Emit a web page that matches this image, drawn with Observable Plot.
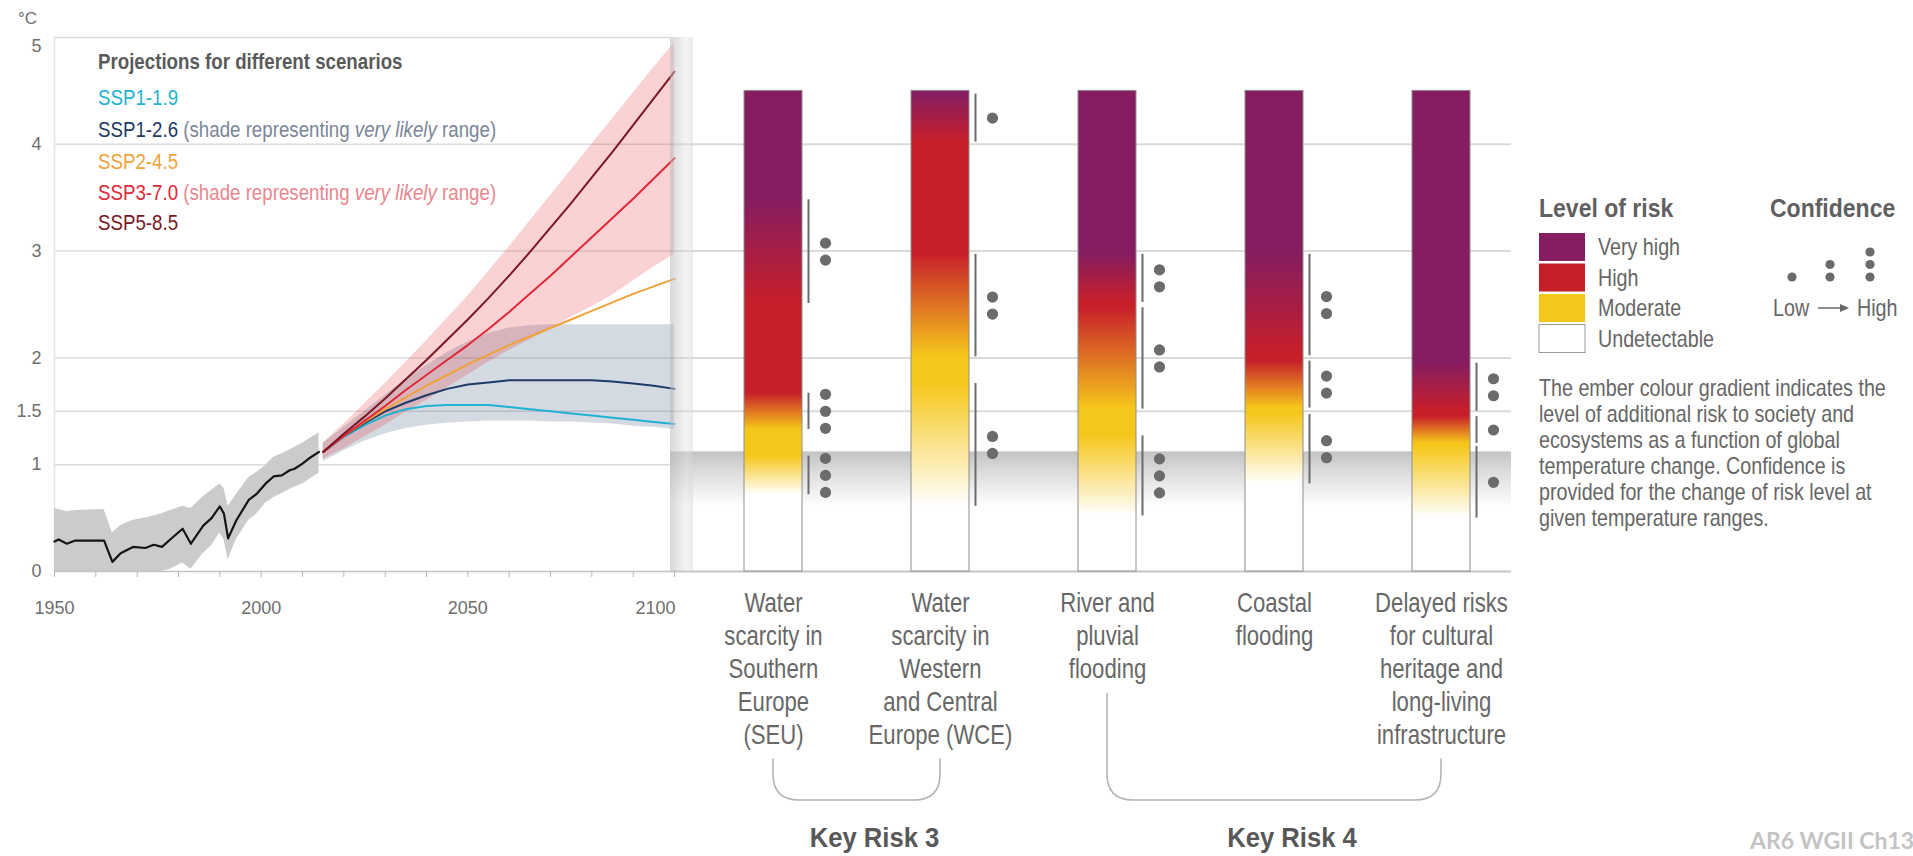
<!DOCTYPE html>
<html>
<head>
<meta charset="utf-8">
<title>Key risks for Europe by level of global warming</title>
<script src="https://cdn.jsdelivr.net/npm/d3@7"></script>
<script src="https://cdn.jsdelivr.net/npm/@observablehq/plot@0.6"></script>
<style>
  html, body { margin: 0; padding: 0; background: #fff; }
  #page { position: relative; width: 1913px; height: 856px; overflow: hidden; background: #fff;
          font-family: "Liberation Sans", Arial, sans-serif; }
  #page svg { position: absolute; left: 0; top: 0; }
  .lbl { position: absolute; white-space: nowrap; line-height: 1; }
</style>
</head>
<body>
<div id="page"></div>
<script>
// ---------------------------------------------------------------------------
// Global surface temperature change (°C relative to 1850–1900)
// ---------------------------------------------------------------------------
const histYears = [1950,1951,1953,1955,1962,1964,1966,1969,1972,1974,1976,1978,1981,1983,1986,1988,1990,1991,1992,1994,1997,1999,2001,2003,2005,2007,2008,2010,2012,2014];
const histMean  = [0.28,0.30,0.26,0.29,0.29,0.09,0.17,0.23,0.22,0.25,0.23,0.30,0.40,0.26,0.43,0.50,0.61,0.54,0.31,0.48,0.67,0.73,0.82,0.89,0.90,0.95,0.96,1.01,1.07,1.12];
const histLow   = [0.00,0.00,0.00,0.00,0.00,0.00,0.00,0.00,0.00,0.00,0.00,0.02,0.08,0.02,0.17,0.24,0.36,0.30,0.11,0.30,0.48,0.54,0.64,0.69,0.73,0.77,0.79,0.82,0.87,0.92];
const histHigh  = [0.59,0.58,0.56,0.57,0.58,0.36,0.43,0.48,0.50,0.52,0.54,0.57,0.61,0.59,0.70,0.76,0.82,0.78,0.61,0.72,0.88,0.93,0.99,1.07,1.10,1.14,1.16,1.20,1.25,1.30];

const projYears = [2015,2020,2025,2030,2035,2040,2045,2050,2055,2060,2065,2070,2075,2080,2085,2090,2095,2100];
const ssp119 = [1.12,1.26,1.37,1.46,1.52,1.55,1.56,1.56,1.56,1.54,1.52,1.50,1.48,1.46,1.44,1.42,1.40,1.38];
const ssp126 = [1.12,1.27,1.39,1.50,1.58,1.65,1.71,1.75,1.77,1.79,1.79,1.79,1.79,1.79,1.78,1.76,1.74,1.71];
const ssp245 = [1.12,1.27,1.40,1.52,1.63,1.74,1.84,1.94,2.03,2.12,2.20,2.28,2.36,2.44,2.52,2.60,2.67,2.74];
const ssp370 = [1.12,1.27,1.41,1.55,1.70,1.84,1.98,2.12,2.27,2.43,2.60,2.77,2.95,3.13,3.31,3.49,3.68,3.87];
const ssp585 = [1.12,1.29,1.45,1.62,1.80,1.98,2.17,2.36,2.56,2.77,2.99,3.22,3.45,3.69,3.93,4.18,4.43,4.68];
// very likely ranges
const ssp126Low  = [1.03,1.13,1.22,1.29,1.34,1.37,1.39,1.40,1.41,1.41,1.41,1.40,1.40,1.39,1.38,1.36,1.35,1.33];
const ssp126High = [1.20,1.35,1.50,1.65,1.80,1.93,2.05,2.15,2.23,2.28,2.30,2.31,2.31,2.31,2.31,2.31,2.31,2.31];
const ssp370Low  = [1.05,1.15,1.26,1.37,1.49,1.60,1.72,1.84,1.96,2.07,2.17,2.27,2.38,2.48,2.59,2.72,2.85,2.97];
const ssp370High = [1.20,1.38,1.57,1.76,1.96,2.16,2.37,2.58,2.81,3.04,3.28,3.52,3.76,4.00,4.24,4.48,4.72,4.95];

const scenarios = ["SSP1-1.9", "SSP1-2.6", "SSP2-4.5", "SSP3-7.0", "SSP5-8.5"];
const scenarioColors = ["#1fb2d1", "#1d3a66", "#f0a23a", "#df2738", "#7a1727"];

const xLabelYears = [1950, 2000, 2050, 2100];
const xMinorYears = [1950, 1960, 1970, 1980, 1990, 2000, 2010, 2020, 2030, 2040, 2050, 2060, 2070, 2080, 2090, 2100];
const yTicks = [0, 1, 1.5, 2, 3, 4, 5];

// ---------------------------------------------------------------------------
// Burning embers: risk level against global warming
// ---------------------------------------------------------------------------
const riskKeys = ["SEU", "WCE", "RPF", "CF", "CH"];
const riskLabels = [
  "Water\nscarcity in\nSouthern\nEurope\n(SEU)",
  "Water\nscarcity in\nWestern\nand Central\nEurope (WCE)",
  "River and\npluvial\nflooding",
  "Coastal\nflooding",
  "Delayed risks\nfor cultural\nheritage and\nlong-living\ninfrastructure"
];
const emberTop = 4.5;
// transition ranges (°C) between risk levels
const toModerate = [[0.72, 1.08], [0.61, 1.76], [0.52, 1.27], [0.82, 1.47], [0.50, 1.17]];
const toHigh     = [[1.33, 1.67], [2.01, 2.97], [1.52, 2.47], [1.53, 1.97], [1.20, 1.45]];
const toVeryHigh = [[2.51, 3.48], [4.02, 4.47], [2.52, 2.97], [2.02, 2.97], [1.50, 1.95]];
// confidence of each transition (number of dots)
const confModerate = [3, 2, 3, 2, 1];
const confHigh     = [3, 2, 2, 2, 1];
const confVeryHigh = [2, 1, 2, 2, 2];

const riskLevels = ["Very high", "High", "Moderate", "Undetectable"];
const riskLevelColors = ["#861d60", "#c71f2a", "#f6c71b", "#ffffff"];
const observedWarming = 1.12;
const keyRiskGroups = [
  {name: "Key Risk 3", from: "SEU", to: "WCE"},
  {name: "Key Risk 4", from: "RPF", to: "CH"}
];

// ---------------------------------------------------------------------------
const page = document.getElementById("page");
const FONT_SANS = '"Liberation Sans", Arial, sans-serif';
const NARROW = 0.82;   // Arial Narrow proportions

const hist = histYears.map((year, i) => ({year, mean: histMean[i], lo: histLow[i], hi: histHigh[i]}));
const proj = projYears.map((year, i) => ({year, lo126: ssp126Low[i], hi126: ssp126High[i], lo370: ssp370Low[i], hi370: ssp370High[i]}));
const projSeries = [ssp119, ssp126, ssp245, ssp370, ssp585];
const projLong = scenarios.flatMap((s, k) => projYears.map((year, i) => ({scenario: s, year, value: projSeries[k][i]})));

// Ember panel (drawn first, lies underneath)
const [cVeryHigh, cHigh, cModerate, cNone] = riskLevelColors;

function emberDefs() {
  const defs = d3.create("svg:defs");
  riskKeys.forEach((k, i) => {
    const g = defs.append("linearGradient").attr("id", `ember-${i}`)
      .attr("x1", 0).attr("y1", 1).attr("x2", 0).attr("y2", 0);
    const stops = [
      [0, cNone], [toModerate[i][0], cNone], [toModerate[i][1], cModerate],
      [toHigh[i][0], cModerate], [toHigh[i][1], cHigh],
      [toVeryHigh[i][0], cHigh], [toVeryHigh[i][1], cVeryHigh], [emberTop, cVeryHigh]
    ];
    for (const [t, c] of stops) g.append("stop").attr("offset", Math.min(1, t / emberTop)).attr("stop-color", c);
  });
  const b = defs.append("linearGradient").attr("id", "now-band").attr("x1", 0).attr("y1", 0).attr("x2", 0).attr("y2", 1);
  b.append("stop").attr("offset", 0).attr("stop-color", "#c3c3c3");
  b.append("stop").attr("offset", 0.4).attr("stop-color", "#dedede");
  b.append("stop").attr("offset", 1).attr("stop-color", "#ffffff");
  return defs.node();
}

const segments = riskKeys.flatMap((risk, i) => [
  {risk, lo: toModerate[i][0], hi: toModerate[i][1], n: confModerate[i]},
  {risk, lo: toHigh[i][0], hi: toHigh[i][1], n: confHigh[i]},
  {risk, lo: toVeryHigh[i][0], hi: toVeryHigh[i][1], n: confVeryHigh[i]}
]);
const dotOffsets = {1: [0], 2: [-8.5, 8.5], 3: [-17, 0, 17]};
const dotMarks = Object.entries(dotOffsets).flatMap(([n, offs]) => offs.map(off =>
  Plot.dot(segments.filter(s => s.n === +n), {
    x: "risk", y: s => (s.lo + s.hi) / 2, dx: 52, dy: off, r: 5.6, fill: "#6b6b6b", stroke: "none"
  })
));

const ember = Plot.plot({
  width: 1913, height: 856,
  marginLeft: 670, marginRight: 402, marginTop: 37, marginBottom: 285,
  style: {background: "transparent", overflow: "visible", fontFamily: FONT_SANS},
  x: {type: "band", domain: riskKeys, range: [743, 1470], paddingInner: 0.653, paddingOuter: 0, axis: null},
  y: {domain: [0, 5], axis: null},
  color: {type: "identity"},
  marks: [
    emberDefs,
    Plot.rect([observedWarming], {y1: 0.6, y2: d => d, fill: "url(#now-band)"}),
    Plot.ruleY([1.5, 2, 3, 4], {stroke: "#dadada", strokeWidth: 2}),
    Plot.ruleY([0], {stroke: "#c6c6c6", strokeWidth: 2}),
    Plot.barY(riskKeys, {x: d => d, y1: 0, y2: emberTop, fill: (d, i) => `url(#ember-${i})`, stroke: "#8d8d8d", strokeWidth: 1}),
    Plot.ruleX(segments, {x: "risk", y1: "lo", y2: "hi", dx: 35, stroke: "#6b6b6b", strokeWidth: 2}),
    ...dotMarks,
    Plot.text(riskKeys, {
      x: d => d, y: 0, text: (d, i) => riskLabels[i], lineAnchor: "top", dy: 17,
      fontSize: 27, lineHeight: 1.22, fill: "#676767", fontFamily: FONT_SANS
    })
  ]
});
// condense the risk labels to narrow proportions, keeping each one centred on its ember
d3.select(ember).selectAll("text").each(function () {
  const t = d3.select(this);
  const tr = t.attr("transform");
  if (tr) t.attr("transform", `${tr} scale(${NARROW},1)`);
  else {
    const x = +t.attr("x") || 0, y = +t.attr("y") || 0;
    t.attr("transform", `translate(${x},${y}) scale(${NARROW},1) translate(${-x},${-y})`);
  }
});
page.appendChild(ember);

// Global temperature panel
const left = Plot.plot({
  width: 700, height: 620,
  marginLeft: 54, marginRight: 30, marginTop: 37, marginBottom: 49,
  style: {background: "transparent", overflow: "visible", fontFamily: FONT_SANS, fontSize: "18px", color: "#6e6e6e"},
  x: {domain: [1950, 2100], range: [54, 674]},
  y: {domain: [0, 5]},
  color: {domain: scenarios, range: scenarioColors},
  marks: [
    Plot.ruleY(yTicks.filter(d => d > 0), {stroke: "#dcdcdc", strokeWidth: 1.5}),
    Plot.ruleX([1950], {stroke: "#e2e2e2", strokeWidth: 1.5}),
    Plot.areaY(proj, {x: "year", y1: "lo126", y2: "hi126", fill: "#1d3a66", fillOpacity: 0.19}),
    Plot.areaY(proj, {x: "year", y1: "lo370", y2: "hi370", fill: "#e71d25", fillOpacity: 0.2}),
    Plot.areaY(hist, {x: "year", y1: "lo", y2: "hi", fill: "#cbcbcb"}),
    Plot.ruleY([0], {stroke: "#c2c2c2", strokeWidth: 1.5}),
    Plot.lineY(hist, {x: "year", y: "mean", stroke: "#151515", strokeWidth: 2.2}),
    Plot.lineY(projLong, {x: "year", y: "value", z: "scenario", stroke: "scenario", strokeWidth: 2}),
    Plot.axisX(xMinorYears, {tickSize: 6, tickPadding: 24, stroke: "#b5b5b5", label: null,
      tickFormat: d => (xLabelYears.includes(d) && d < 2100) ? String(d) : ""}),
    Plot.axisX(xLabelYears.filter(d => d === 2100), {tickSize: 0, tickPadding: 30, textAnchor: "end", dx: 1, label: null, tickFormat: String}),
    Plot.axisY(yTicks.filter(d => d < 5), {tickSize: 0, tickPadding: 13, label: null, tickFormat: String}),
    Plot.axisY(yTicks.filter(d => d === 5), {tickSize: 0, tickPadding: 13, dy: 9, label: null, tickFormat: String})
  ]
});
page.appendChild(left);

// Shaded divider between the two panels
const strip = document.createElement("div");
Object.assign(strip.style, {position: "absolute", left: "670px", top: "37px", width: "23px", height: "534px",
  background: "linear-gradient(to right, rgba(185,185,185,0.55), rgba(225,225,225,0.35) 70%, rgba(215,215,215,0.5))"});
page.appendChild(strip);

// Text helper: positions by the vertical centre of the capitals
function label(x, capCenter, html, size, extra = {}, sx = 1) {
  const d = document.createElement("div");
  d.className = "lbl";
  d.innerHTML = html;
  Object.assign(d.style, {left: x + "px", top: (capCenter - size / 2) + "px", fontSize: size + "px"}, extra);
  if (sx !== 1) Object.assign(d.style, {transform: `scaleX(${sx})`, transformOrigin: "0 50%"});
  page.appendChild(d);
  return d;
}

// Temperature axis unit
label(18, 18, "°C", 17, {color: "#6e6e6e"});

// Scenario legend
const LEG = 0.85;
label(98, 62, "Projections for different scenarios", 22, {fontWeight: "bold", color: "#5a5a5a"}, LEG);
const shadeNote = '(shade representing <i>very likely</i> range)';
label(98, 98, `<span style="color:${scenarioColors[0]}">SSP1-1.9</span>`, 22, {}, LEG);
label(98, 130, `<span style="color:${scenarioColors[1]}">SSP1-2.6</span> <span style="color:#7b8698">${shadeNote}</span>`, 22, {}, LEG);
label(98, 162, `<span style="color:${scenarioColors[2]}">SSP2-4.5</span>`, 22, {}, LEG);
label(98, 193, `<span style="color:${scenarioColors[3]}">SSP3-7.0</span> <span style="color:#e8878f">${shadeNote}</span>`, 22, {}, LEG);
label(98, 223, `<span style="color:${scenarioColors[4]}">SSP5-8.5</span>`, 22, {}, LEG);

// Overlay: key risk brackets and legend graphics
const overlay = d3.create("svg").attr("width", 1913).attr("height", 856);
const xs = ember.scale("x");
const cx = k => xs.apply(k) + xs.bandwidth / 2;
const nLines = k => riskLabels[riskKeys.indexOf(k)].split("\n").length;
const lineTop = k => 611 + (nLines(k) - 1) * 32.9 + 16;
const bracketY = 800, rad = 26;
for (const g of keyRiskGroups) {
  const x1 = cx(g.from), x2 = cx(g.to);
  overlay.append("path")
    .attr("d", `M${x1},${lineTop(g.from)} V${bracketY - rad} Q${x1},${bracketY} ${x1 + rad},${bracketY} H${x2 - rad} Q${x2},${bracketY} ${x2},${bracketY - rad} V${lineTop(g.to)}`)
    .attr("fill", "none").attr("stroke", "#b4b4b4").attr("stroke-width", 1.6);
  const mx = (x1 + x2) / 2 + 18;
  overlay.append("text").attr("transform", `translate(${mx},847) scale(0.95,1)`).attr("text-anchor", "middle")
    .attr("font-family", FONT_SANS).attr("font-weight", "bold").attr("font-size", 27).attr("fill", "#585858")
    .text(g.name);
}

// Risk level legend
label(1539, 208, "Level of risk", 25, {fontWeight: "bold", color: "#606060"}, 0.92);
riskLevels.forEach((name, i) => {
  const y0 = 233 + i * 30.5;
  overlay.append("rect").attr("x", 1539).attr("y", y0).attr("width", 46).attr("height", 28)
    .attr("fill", riskLevelColors[i]).attr("stroke", i === 3 ? "#9a9a9a" : "none").attr("stroke-width", 1);
  label(1598, y0 + 14, name, 24, {color: "#666"}, NARROW);
});

// Confidence legend
label(1770, 208, "Confidence", 25, {fontWeight: "bold", color: "#606060"}, 0.92);
[[1792, 1], [1830, 2], [1870, 3]].forEach(([x, n]) => {
  for (let j = 0; j < n; j++) overlay.append("circle").attr("cx", x).attr("cy", 277 - j * 12.5).attr("r", 4.6).attr("fill", "#6b6b6b");
});
label(1773, 308, "Low", 24, {color: "#666"}, NARROW);
overlay.append("line").attr("x1", 1818).attr("x2", 1842).attr("y1", 308).attr("y2", 308).attr("stroke", "#666").attr("stroke-width", 1.5);
overlay.append("path").attr("d", "M1849,308 L1840,304 L1840,312 Z").attr("fill", "#666");
label(1857, 308, "High", 24, {color: "#666"}, NARROW);

const note = document.createElement("div");
note.className = "lbl";
note.innerHTML = "The ember colour gradient indicates the<br>level of additional risk to society and<br>ecosystems as a function of global<br>temperature change. Confidence is<br>provided for the change of risk level at<br>given temperature ranges.";
Object.assign(note.style, {left: "1539px", top: "375px", fontSize: "24px", lineHeight: "26px", color: "#666",
  transform: `scaleX(${NARROW})`, transformOrigin: "0 0"});
page.appendChild(note);

page.appendChild(overlay.node());

// Source tag
label(1750, 840, "AR6 WGII Ch13", 23, {fontFamily: "Lato, 'Open Sans', sans-serif", fontWeight: "bold", color: "#c3c3c3"});
</script>
</body>
</html>
